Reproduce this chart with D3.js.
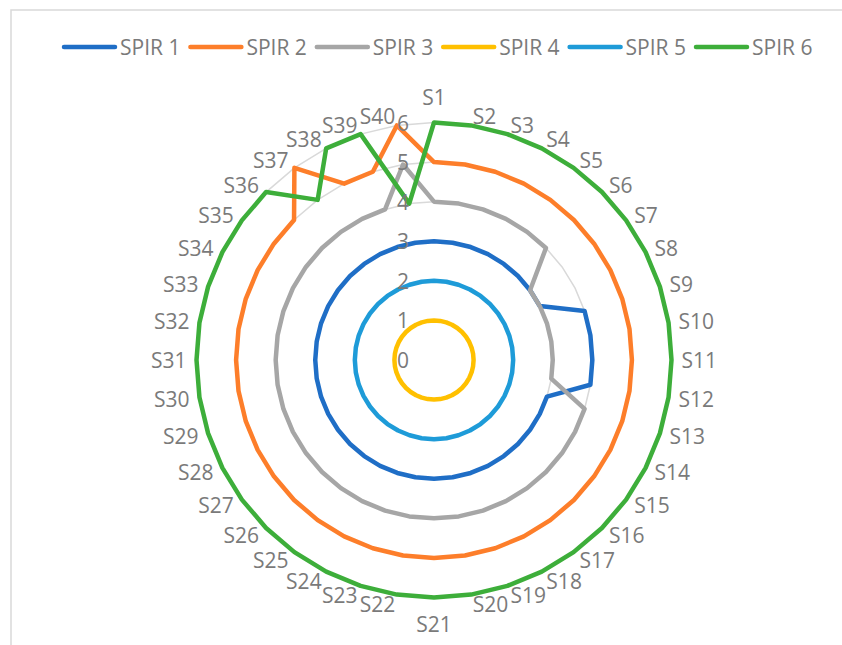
<!DOCTYPE html>
<html>
<head>
<meta charset="utf-8">
<script src="https://cdn.jsdelivr.net/npm/d3@7/dist/d3.min.js"></script>
<style>
  html, body { margin: 0; padding: 0; background: #fff; }
  svg { display: block; }
  text { font-family: "Open Sans", "Noto Sans", sans-serif; fill: #7a7a7a; }
</style>
</head>
<body>
<svg id="chart" width="842" height="645"></svg>
<script>
// Spoke labels around the radar
const categories = ["S1","S2","S3","S4","S5","S6","S7","S8","S9","S10",
  "S11","S12","S13","S14","S15","S16","S17","S18","S19","S20",
  "S21","S22","S23","S24","S25","S26","S27","S28","S29","S30",
  "S31","S32","S33","S34","S35","S36","S37","S38","S39","S40"];

// Radial axis ticks
const ticks = [0, 1, 2, 3, 4, 5, 6];

// Series names and values per spoke
const seriesNames = ["SPIR 1", "SPIR 2", "SPIR 3", "SPIR 4", "SPIR 5", "SPIR 6"];

const spir1 = [3,3,3,3,3,3,3,3,4,4, 4,4,3,3,3,3,3,3,3,3, 3,3,3,3,3,3,3,3,3,3, 3,3,3,3,3,3,3,3,3,3];
const spir2 = [5,5,5,5,5,5,5,5,5,5, 5,5,5,5,5,5,5,5,5,5, 5,5,5,5,5,5,5,5,5,5, 5,5,5,5,5,5,6,5,5,6];
const spir3 = [4,4,4,4,4,4,3,3,3,3, 3,3,4,4,4,4,4,4,4,4, 4,4,4,4,4,4,4,4,4,4, 4,4,4,4,4,4,4,4,4,5];
const spir4 = [1,1,1,1,1,1,1,1,1,1, 1,1,1,1,1,1,1,1,1,1, 1,1,1,1,1,1,1,1,1,1, 1,1,1,1,1,1,1,1,1,1];
const spir5 = [2,2,2,2,2,2,2,2,2,2, 2,2,2,2,2,2,2,2,2,2, 2,2,2,2,2,2,2,2,2,2, 2,2,2,2,2,2,2,2,2,2];
const spir6 = [6,6,6,6,6,6,6,6,6,6, 6,6,6,6,6,6,6,6,6,6, 6,6,6,6,6,6,6,6,6,6, 6,6,6,6,6,6,5,6,6,4];

const seriesValues = [spir1, spir2, spir3, spir4, spir5, spir6];
const seriesColors = ["#1f6ec6", "#fd7e2a", "#a6a6a6", "#ffc000", "#1e9bd8", "#3dae3a"];

const svg = d3.select("#chart");
const W = 842, H = 645;
const cx = 434, cy = 360, R = 237.5;
const fontSize = "21px";

// Chart frame (runs off the right and bottom edges)
svg.append("rect")
  .attr("x", 11).attr("y", 10)
  .attr("width", W + 20).attr("height", H + 20)
  .attr("fill", "#fff")
  .attr("stroke", "#d9d9d9").attr("stroke-width", 1.5);

const r = d3.scaleLinear().domain([0, 6]).range([0, R]);
const angle = d3.scalePoint().domain(categories).range([0, 2 * Math.PI * (1 - 1 / categories.length)]);

const g = svg.append("g").attr("transform", `translate(${cx},${cy})`);

const radial = d3.lineRadial()
  .angle((d, i) => angle(categories[i]))
  .radius(d => r(d))
  .curve(d3.curveLinearClosed);

// Polygonal gridlines
g.append("g").selectAll("path")
  .data(ticks.filter(t => t > 0))
  .join("path")
  .attr("d", t => radial(categories.map(() => t)))
  .attr("fill", "none")
  .attr("stroke", "#d9d9d9")
  .attr("stroke-width", 1.5);

// Series lines
g.append("g").selectAll("path")
  .data(seriesValues)
  .join("path")
  .attr("d", d => radial(d))
  .attr("fill", "none")
  .attr("stroke", (d, i) => seriesColors[i])
  .attr("stroke-width", 4.5)
  .attr("stroke-linejoin", "round");

// Radial axis tick labels
g.append("g").selectAll("text")
  .data(ticks)
  .join("text")
  .attr("x", -25)
  .attr("y", t => -r(t))
  .attr("text-anchor", "end")
  .attr("dominant-baseline", "central")
  .style("font-size", fontSize)
  .text(t => t);

// Category labels
const labelR = R + 10;
g.append("g").selectAll("text")
  .data(categories)
  .join("text")
  .each(function (c) {
    const a = angle(c);
    const s = Math.sin(a), k = -Math.cos(a);
    const x = labelR * s, y = labelR * k;
    const t = d3.select(this).style("font-size", fontSize).text(c);
    if (Math.abs(s) < 1e-6) {
      t.attr("x", x).attr("text-anchor", "middle")
       .attr("y", k < 0 ? y - 16 : y + 16)
       .attr("dominant-baseline", "central");
    } else {
      t.attr("x", x).attr("y", y)
       .attr("text-anchor", s > 0 ? "start" : "end")
       .attr("dominant-baseline", "central");
    }
  });

// Legend
const legend = svg.append("g");
const legendX0 = 62, legendPitch = 126.4, legendY = 47;
seriesNames.forEach((name, i) => {
  const x = legendX0 + i * legendPitch;
  legend.append("line")
    .attr("x1", x + 2).attr("x2", x + 53)
    .attr("y1", legendY).attr("y2", legendY)
    .attr("stroke", seriesColors[i])
    .attr("stroke-width", 4.5)
    .attr("stroke-linecap", "round");
  legend.append("text")
    .attr("x", x + 58).attr("y", legendY)
    .attr("dominant-baseline", "central")
    .style("font-size", fontSize)
    .text(name);
});
</script>
</body>
</html>
